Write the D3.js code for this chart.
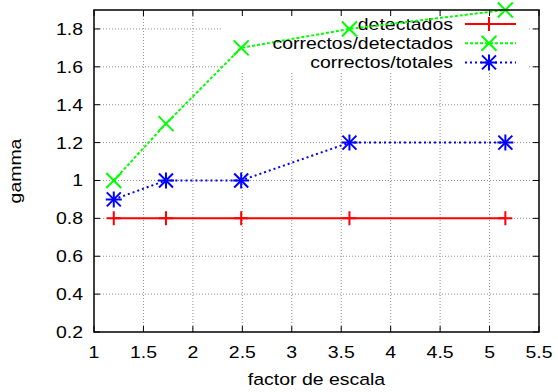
<!DOCTYPE html>
<html>
<head>
<meta charset="utf-8">
<script src="https://cdn.jsdelivr.net/npm/d3@7"></script>
<style>
  body { margin: 0; background: #fff; }
  svg { display: block; font-family: "Liberation Sans", Arial, sans-serif; }
</style>
</head>
<body>
<div id="chart"></div>
<script>
// scale factors 1.2^1, 1.2^3, 1.2^5, 1.2^7, 1.2^9
const factores = [1.2, 1.728, 2.48832, 3.5832, 5.15978];
const detectados = [0.8, 0.8, 0.8, 0.8, 0.8];
const correctosDetectados = [1.0, 1.3, 1.7, 1.8, 1.9];
const correctosTotales = [0.9, 1.0, 1.0, 1.2, 1.2];
const xTicks = [1, 1.5, 2, 2.5, 3, 3.5, 4, 4.5, 5, 5.5];
const yTicks = [0.2, 0.4, 0.6, 0.8, 1, 1.2, 1.4, 1.6, 1.8];

const W = 558, H = 392;
const margin = {top: 10, right: 19, bottom: 60, left: 94};
const width = W - margin.left - margin.right,
      height = H - margin.top - margin.bottom;
const fontSize = "16.5px", stretch = 1.18;

const svg = d3.select("#chart").append("svg")
    .attr("width", W)
    .attr("height", H);

const x = d3.scaleLinear().domain([1, 5.5]).range([margin.left, margin.left + width]);
const y = d3.scaleLinear().domain([0.2, 1.9]).range([margin.top + height, margin.top]);

// gnuplot text is a bit wider than Liberation Sans
function label(g, tx, ty, str, anchor, rot) {
  return g.append("text")
      .attr("transform", "translate(" + tx + "," + ty + ")" + (rot ? " rotate(" + rot + ")" : "") + " scale(" + stretch + ",1)")
      .attr("text-anchor", anchor)
      .style("font-size", fontSize)
      .style("fill", "#000")
      .text(str);
}

// grid
const grid = svg.append("g")
    .style("stroke", "#909090")
    .style("stroke-width", "1px")
    .style("stroke-dasharray", "1,2");
grid.selectAll(".gx").data(xTicks.slice(1, -1)).enter().append("line")
    .attr("x1", d => x(d)).attr("x2", d => x(d))
    .attr("y1", margin.top).attr("y2", margin.top + height);
grid.selectAll(".gy").data(yTicks.slice(1)).enter().append("line")
    .attr("x1", margin.left).attr("x2", margin.left + width)
    .attr("y1", d => y(d)).attr("y2", d => y(d));

// key area blanks the grid
svg.append("rect")
    .attr("x", 222).attr("y", margin.top + 1)
    .attr("width", 305).attr("height", 62)
    .style("fill", "#fff");

// ticks (inside, mirrored)
const tk = 6;
const ticks = svg.append("g").style("stroke", "#000").style("stroke-width", "1px");
xTicks.forEach(d => {
  ticks.append("line").attr("x1", x(d)).attr("x2", x(d))
      .attr("y1", margin.top + height).attr("y2", margin.top + height - tk);
  ticks.append("line").attr("x1", x(d)).attr("x2", x(d))
      .attr("y1", margin.top).attr("y2", margin.top + tk);
});
yTicks.forEach(d => {
  ticks.append("line").attr("x1", margin.left).attr("x2", margin.left + tk)
      .attr("y1", y(d)).attr("y2", y(d));
  ticks.append("line").attr("x1", margin.left + width).attr("x2", margin.left + width - tk)
      .attr("y1", y(d)).attr("y2", y(d));
});

// tick labels
const labels = svg.append("g");
xTicks.forEach(d => label(labels, x(d), 358, d, "middle"));
yTicks.forEach(d => label(labels, margin.left - 11, y(d) + 6, d, "end"));

// axis labels
label(svg, margin.left + width / 2, 385, "factor de escala", "middle");
label(svg, 21, margin.top + height / 2, "gamma", "middle", -90);

// markers
function plus(g, cx, cy, s) {
  g.append("path").attr("d", `M${cx - s},${cy}H${cx + s}M${cx},${cy - s}V${cy + s}`);
}
function cross(g, cx, cy, s) {
  g.append("path").attr("d", `M${cx - s},${cy - s}L${cx + s},${cy + s}M${cx - s},${cy + s}L${cx + s},${cy - s}`);
}
function star(g, cx, cy, s) {
  plus(g, cx, cy, s + 1);
  cross(g, cx, cy, s);
}

const series = [
  {name: "detectados", values: detectados, color: "#ff0000", dash: null, mark: (g, a, b) => plus(g, a, b, 7)},
  {name: "correctos/detectados", values: correctosDetectados, color: "#00ff00", dash: "3,2", mark: (g, a, b) => cross(g, a, b, 7.5)},
  {name: "correctos/totales", values: correctosTotales, color: "#0000ff", dash: "2,3", mark: (g, a, b) => star(g, a, b, 7)}
];

const line = d3.line().x(d => x(d[0])).y(d => y(d[1]));

series.forEach((s, i) => {
  const g = svg.append("g")
      .style("stroke", s.color)
      .style("stroke-width", "2px")
      .style("fill", "none");
  g.append("path")
      .datum(factores.map((f, j) => [f, s.values[j]]))
      .attr("d", line)
      .style("stroke-dasharray", s.dash);
  const m = g.append("g");
  factores.forEach((f, j) => s.mark(m, x(f), y(s.values[j])));

  // legend entry
  const ly = 24 + i * 19.2;
  label(svg, 453, ly + 5.5, s.name, "end");
  const lg = svg.append("g")
      .style("stroke", s.color)
      .style("stroke-width", "2px")
      .style("fill", "none");
  lg.append("line")
      .attr("x1", 465).attr("x2", 516)
      .attr("y1", ly).attr("y2", ly)
      .style("stroke-dasharray", s.dash);
  s.mark(lg, 489, ly);
});

// border
svg.append("rect")
    .attr("x", margin.left).attr("y", margin.top)
    .attr("width", width).attr("height", height)
    .style("fill", "none")
    .style("stroke", "#000")
    .style("stroke-width", "1.5px");
</script>
</body>
</html>
